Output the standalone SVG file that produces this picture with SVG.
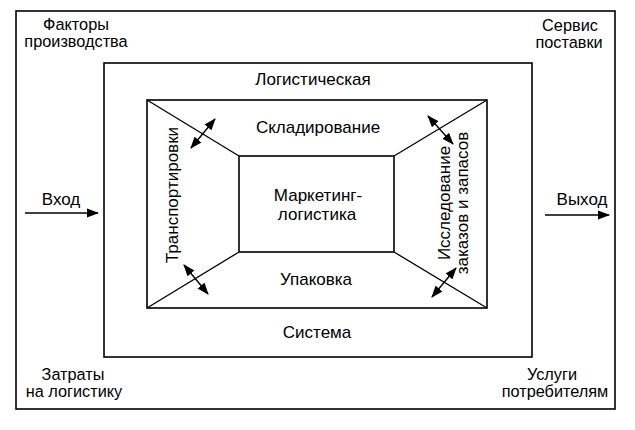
<svg xmlns="http://www.w3.org/2000/svg" width="635" height="430" viewBox="0 0 635 430">
<defs>
<marker id="ah" markerUnits="userSpaceOnUse" markerWidth="12" markerHeight="10" refX="11" refY="4.5" orient="auto-start-reverse" viewBox="0 0 12 9">
<path d="M0,0 L12,4.5 L0,9 z" fill="#000"/>
</marker>
<style>
text{font-family:"Liberation Sans",Arial,sans-serif;font-size:17px;fill:#000;text-anchor:middle}
.c{font-size:16.3px}
.box{fill:none;stroke:#000;stroke-width:1.6}
.ln{fill:none;stroke:#000;stroke-width:1.3}
.arr{fill:none;stroke:#000;stroke-width:1.4;marker-start:url(#ah);marker-end:url(#ah)}
.io{fill:none;stroke:#000;stroke-width:1.4;marker-end:url(#ah)}
</style>
</defs>
<rect width="635" height="430" fill="#fff"/>
<g id="frame"><rect class="box" x="16" y="11" width="599" height="398"/></g>
<g id="system">
<rect class="box" x="104" y="63" width="428" height="294"/>
<text x="313" y="85">Логистическая</text>
<text x="317" y="338">Система</text>
</g>
<g id="middle">
<rect class="box" x="147" y="100" width="340" height="208"/>
<text x="318" y="133">Складирование</text>
<text x="316" y="285">Упаковка</text>
<text transform="translate(178,195) rotate(-90)">Транспортировки</text>
<text transform="translate(450,203) rotate(-90)">Исследование</text>
<text transform="translate(468,203) rotate(-90)">заказов и запасов</text>
</g>
<g id="marketing">
<rect class="box" x="239" y="156" width="155" height="96"/>
<text x="318" y="201">Маркетинг-</text>
<text x="317" y="220">логистика</text>
</g>
<g id="connectors">
<line class="ln" x1="147" y1="100" x2="239" y2="156"/>
<line class="ln" x1="487" y1="100" x2="394" y2="156"/>
<line class="ln" x1="147" y1="308" x2="239" y2="252"/>
<line class="ln" x1="487" y1="308" x2="394" y2="252"/>
<line class="arr" x1="191" y1="148" x2="215" y2="119"/>
<line class="arr" x1="428" y1="116" x2="453" y2="144"/>
<line class="arr" x1="184" y1="265" x2="208" y2="294"/>
<line class="arr" x1="456" y1="268" x2="432" y2="297"/>
<line class="io" x1="25" y1="213" x2="98" y2="213"/>
<line class="io" x1="545" y1="215" x2="609" y2="215"/>
</g>
<g id="labels">
<text class="c" x="76" y="30">Факторы</text>
<text class="c" x="76" y="47">производства</text>
<text class="c" x="570" y="31">Сервис</text>
<text class="c" x="569" y="48">поставки</text>
<text x="61" y="205">Вход</text>
<text x="582" y="205">Выход</text>
<text class="c" x="73" y="380">Затраты</text>
<text class="c" x="74" y="397">на логистику</text>
<text class="c" x="552" y="380">Услуги</text>
<text class="c" x="555" y="397">потребителям</text>
</g>
</svg>
